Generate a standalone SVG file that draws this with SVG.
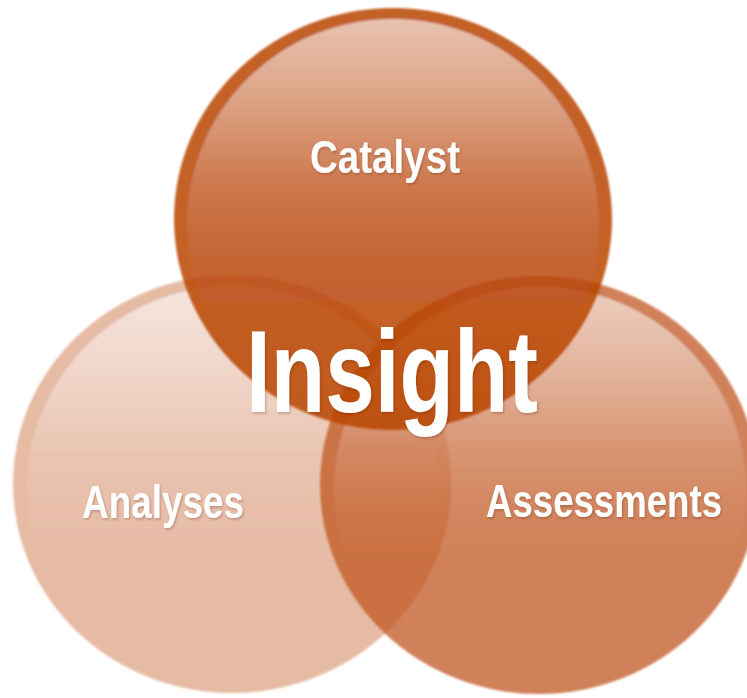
<svg xmlns="http://www.w3.org/2000/svg" width="747" height="698" viewBox="0 0 747 698">
  <defs>
    <linearGradient id="gloss" x1="0" y1="0" x2="0" y2="1">
      <stop offset="0" stop-color="#fff" stop-opacity="0.62"/>
      <stop offset="0.2" stop-color="#fff" stop-opacity="0.42"/>
      <stop offset="0.4" stop-color="#fff" stop-opacity="0.16"/>
      <stop offset="0.55" stop-color="#fff" stop-opacity="0.05"/>
      <stop offset="0.7" stop-color="#fff" stop-opacity="0"/>
    </linearGradient>
    <filter id="soft" x="-5%" y="-5%" width="110%" height="110%">
      <feGaussianBlur stdDeviation="0.8"/>
    </filter>
    <filter id="tshadow" x="-10%" y="-20%" width="120%" height="140%">
      <feDropShadow dx="1" dy="1.5" stdDeviation="1" flood-color="#5a2000" flood-opacity="0.3"/>
    </filter>
  </defs>
  <style>
    .base { fill: #c0561f; }
    .base-top { fill: #b94407; }
    .gl { fill: url(#gloss); }
    .lbl { font-family: "Liberation Sans Narrow", "Liberation Sans", "DejaVu Sans Condensed", sans-serif; font-weight: bold; fill: #ffffff; filter: url(#tshadow); }
  </style>
  <rect width="747" height="698" fill="#ffffff"/>
  <g id="connectors"/>
  <g id="node-analyses" filter="url(#soft)">
    <g opacity="0.4"><ellipse class="base" cx="232" cy="484" rx="219" ry="209"/></g>
    <ellipse class="gl" cx="233" cy="489" rx="206" ry="203"/>
  </g>
  <g id="node-assessments" filter="url(#soft)">
    <g opacity="0.75"><ellipse class="base" cx="539" cy="485" rx="219" ry="209"/></g>
    <ellipse class="gl" cx="540" cy="490" rx="206" ry="203"/>
  </g>
  <g id="node-catalyst" filter="url(#soft)">
    <g opacity="0.85"><ellipse class="base-top" cx="393" cy="219" rx="219" ry="211"/></g>
    <ellipse class="gl" cx="393" cy="224" rx="206" ry="205"/>
  </g>
  <g id="labels">
    <text class="lbl" x="310" y="173" font-size="46" textLength="150" lengthAdjust="spacingAndGlyphs">Catalyst</text>
    <text class="lbl" x="82" y="518" font-size="46" textLength="162" lengthAdjust="spacingAndGlyphs">Analyses</text>
    <text class="lbl" x="486" y="517" font-size="47" textLength="236" lengthAdjust="spacingAndGlyphs">Assessments</text>
  </g>
  <g id="node-insight">
    <text class="lbl" x="246" y="412" font-size="117" textLength="292" lengthAdjust="spacingAndGlyphs">Insight</text>
  </g>
</svg>
